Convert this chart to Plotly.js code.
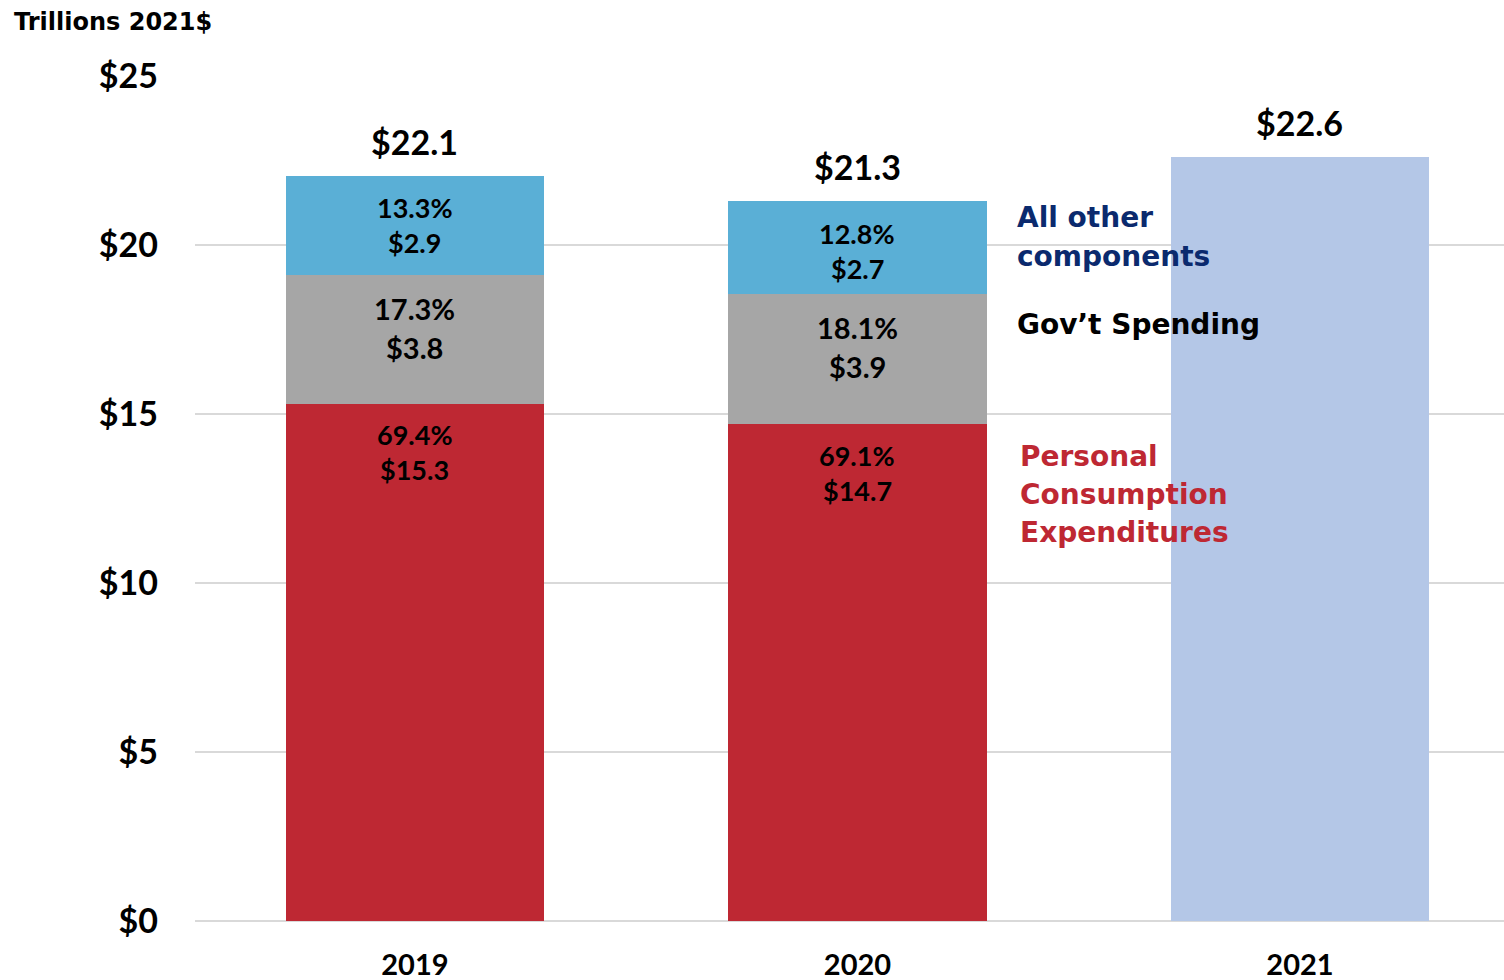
<!DOCTYPE html>
<html>
<head>
<meta charset="utf-8">
<script src="https://cdn.plot.ly/plotly-3.0.1.min.js"></script>
<style>html,body{margin:0;padding:0;background:#fff;}#chart{width:1504px;height:980px;}</style>
</head>
<body>
<div id="chart"></div>
<script>
const years = ['2019', '2020', '2021'];
const stackYears = ['2019', '2020'];
const pce = [15.3, 14.7];
const gov = [3.8, 3.85];
const other = [2.95, 2.75];
const total2021 = [22.6];
const pcePct = ['69.4%', '69.1%'];
const govPct = ['17.3%', '18.1%'];
const otherPct = ['13.3%', '12.8%'];
const pceLbl = ['$15.3', '$14.7'];
const govLbl = ['$3.8', '$3.9'];
const otherLbl = ['$2.9', '$2.7'];
const totalLbl = ['$22.1', '$21.3', '$22.6'];
const yTicks = [0, 5, 10, 15, 20, 25];
const yTickText = ['$0', '$5', '$10', '$15', '$20', '$25'];
const otherName = ['All other', 'components'];
const govName = ['Gov\u2019t Spending'];
const pceName = ['Personal', 'Consumption', 'Expenditures'];

const FONT = 'Lato, "Century Gothic", "DejaVu Sans", sans-serif';
const WFONT = '"DejaVu Sans", sans-serif';
const W = 0.585;

const traces = [
  {type:'bar', x:stackYears, y:pce, width:W, marker:{color:'#BE2833'}, hoverinfo:'none'},
  {type:'bar', x:stackYears, y:gov, width:W, marker:{color:'#A6A6A6'}, hoverinfo:'none'},
  {type:'bar', x:stackYears, y:other, width:W, marker:{color:'#5AAFD6'}, hoverinfo:'none'},
  {type:'bar', x:['2021'], y:total2021, width:W, marker:{color:'#B4C7E7'}, hoverinfo:'none'}
];

const ann = [];
const totals = [pce[0]+gov[0]+other[0], pce[1]+gov[1]+other[1], total2021[0]];
years.forEach((yr, i) => {
  ann.push({x:i, y:totals[i], xref:'x', yref:'y', yanchor:'bottom', yshift:12, showarrow:false,
    text:'<b>'+totalLbl[i]+'</b>', font:{family:FONT, size:34, color:'#000'}});
});
stackYears.forEach((yr, i) => {
  const tops = [pce[i], pce[i]+gov[i], pce[i]+gov[i]+other[i]];
  const txt = [[pcePct[i], pceLbl[i]], [govPct[i], govLbl[i]], [otherPct[i], otherLbl[i]]];
  const sz = [27, 29, 27];
  const gap = [35, 39, 35];
  const first = [31, 33, 32];
  tops.forEach((t, k) => {
    txt[k].forEach((s, j) => {
      ann.push({x:i, y:t, xref:'x', yref:'y', yanchor:'middle', yshift:-(first[k] + j*gap[k]), showarrow:false,
        text:'<b>'+s+'</b>', font:{family:FONT, size:sz[k], color:'#000'}});
    });
  });
});
function legendLines(lines, yVal, x0, first, gap, color) {
  lines.forEach((s, j) => {
    ann.push({x:x0, y:yVal, xref:'x', yref:'y', xanchor:'left', yanchor:'middle', yshift:-(first + j*gap), align:'left', showarrow:false,
      text:'<b>'+s+'</b>', font:{family:WFONT, size:28, color:color}});
  });
}
legendLines(otherName, pce[1]+gov[1]+other[1], 1.356, 16, 39, '#0B2A6E');
legendLines(govName, pce[1]+gov[1], 1.356, 30, 38, '#000');
legendLines(pceName, pce[1], 1.362, 32, 38, '#BE2833');
ann.push({xref:'paper', yref:'paper', x:-0.1397, y:1.0, xanchor:'left', yanchor:'bottom', yshift:38, showarrow:false,
  text:'<b>Trillions 2021$</b>', font:{family:WFONT, size:24, color:'#000'}});

const layout = {
  width:1504, height:980,
  margin:{l:195, r:0, t:76, b:59, pad:0},
  paper_bgcolor:'#fff', plot_bgcolor:'#fff',
  barmode:'stack', showlegend:false,
  font:{family:FONT, color:'#000'},
  xaxis:{type:'category', categoryorder:'array', categoryarray:years, range:[-0.497, 2.461],
    showgrid:false, zeroline:false, showline:false, ticks:'',
    tickfont:{family:FONT, size:29, color:'#000', weight:'bold'}, ticklabelstandoff:24},
  yaxis:{range:[0,25], tickvals:yTicks, ticktext:yTickText, showgrid:true, gridcolor:'#D9D9D9', gridwidth:2,
    zeroline:true, zerolinecolor:'#D9D9D9', zerolinewidth:2, showline:false, ticks:'',
    tickfont:{family:FONT, size:34, color:'#000', weight:'bold'}, ticklabelstandoff:36},
  annotations:ann
};
Plotly.newPlot('chart', traces, layout, {staticPlot:true, displayModeBar:false});
</script>
</body>
</html>
